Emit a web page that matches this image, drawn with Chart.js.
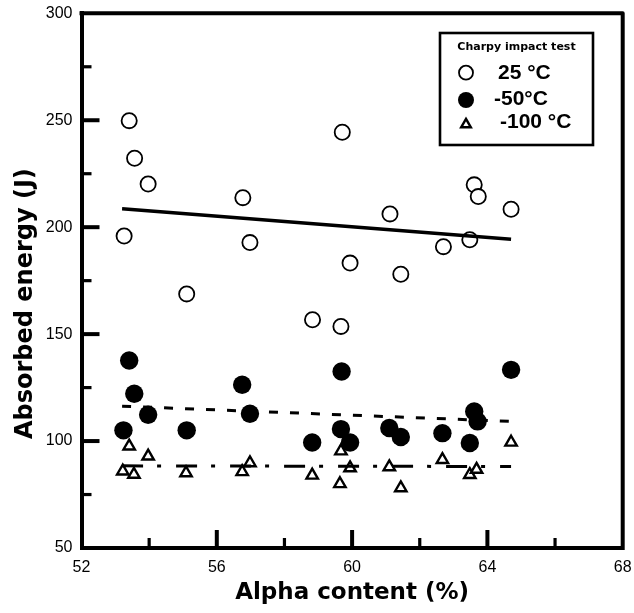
<!DOCTYPE html>
<html>
<head>
<meta charset="utf-8">
<script src="https://cdn.jsdelivr.net/npm/chart.js@4.4.1/dist/chart.umd.min.js"></script>
<style>
html,body{margin:0;padding:0;background:#fff;}
#wrap{width:634px;height:613px;position:relative;}
</style>
</head>
<body>
<div id="wrap"><canvas id="c"></canvas></div>
<script>
// ---- data ----
const seriesLabels = ['25 °C', '-50°C', '-100 °C'];
const legendTitle = 'Charpy impact test';
const xTitle = 'Alpha content (%)';
const yTitle = 'Absorbed energy (J)';

const alpha25  = [53.26, 53.41, 53.57, 53.97, 55.11, 56.77, 56.98, 58.83, 59.67, 59.71, 59.94, 61.12, 61.44, 62.70, 63.48, 63.61, 63.73, 64.70];
const energy25 = [195.9, 249.8, 232.2, 220.2, 168.8, 213.8, 192.8, 156.7, 153.6, 244.4, 183.2, 206.2, 178.0, 190.9, 194.1, 219.8, 214.3, 208.4];

const alpha50  = [53.24, 53.41, 53.56, 53.97, 55.11, 56.75, 56.98, 58.82, 59.67, 59.69, 59.94, 61.10, 61.44, 62.67, 63.48, 63.61, 63.71, 64.70];
const energy50 = [105.0, 137.7, 122.1, 112.3, 105.0, 126.3, 112.8, 99.3, 105.6, 132.5, 99.3, 106.1, 101.9, 103.7, 99.1, 113.8, 109.2, 133.3];

const alpha100  = [53.22, 53.41, 53.55, 53.97, 55.09, 56.75, 56.98, 58.82, 59.64, 59.67, 59.94, 61.10, 61.44, 62.67, 63.48, 63.68, 64.70];
const energy100 = [85.9, 97.6, 84.4, 92.9, 85.1, 85.6, 89.8, 84.0, 80.0, 95.3, 87.4, 87.9, 78.1, 91.3, 84.3, 86.7, 99.4];

const fitAlpha = [53.2, 64.7];
const fit25  = [208.6, 194.4];
const fit50  = [116.3, 109.2];
const fit100 = [88.4, 88.1];

const xTicks = [52, 56, 60, 64, 68];
const yTicks = [50, 100, 150, 200, 250, 300];

// ---- helpers ----
const pts = (xs, ys) => xs.map((x, i) => ({x: x, y: ys[i]}));

const pointStyles = [
  {pointStyle: 'circle', radius: 7.6, borderWidth: 1.8, fill: '#ffffff', legendRadius: 7},
  {pointStyle: 'circle', radius: 9.2, borderWidth: 0, fill: '#000000', legendRadius: 8},
  {pointStyle: 'triangle', radius: 6.6, borderWidth: 2.4, fill: '#ffffff', legendRadius: 5.6}
];

const scatterSets = [pts(alpha25, energy25), pts(alpha50, energy50), pts(alpha100, energy100)].map((d, i) => ({
  type: 'scatter',
  label: seriesLabels[i],
  data: d,
  pointStyle: pointStyles[i].pointStyle,
  pointRadius: pointStyles[i].radius,
  pointBorderWidth: pointStyles[i].borderWidth,
  pointBorderColor: '#000',
  pointBackgroundColor: pointStyles[i].fill,
  showLine: false,
  order: 2
}));

const fitDash = [[], [9, 12], [21, 14, 4, 15]];
const fitWidth = [3.5, 3, 3];
const fitSets = [fit25, fit50, fit100].map((f, i) => ({
  type: 'line',
  label: seriesLabels[i] + ' fit',
  data: pts(fitAlpha, f),
  borderColor: '#000',
  borderWidth: fitWidth[i],
  borderDash: fitDash[i],
  pointRadius: 0,
  fill: false,
  order: 1
}));

const framePlugin = {
  id: 'frame',
  afterDraw(chart) {
    const {ctx, chartArea: a, scales} = chart;
    ctx.save();
    ctx.strokeStyle = '#000';
    ctx.lineCap = 'butt';
    // top and right frame lines
    ctx.lineWidth = 4;
    ctx.lineJoin = 'round';
    ctx.beginPath();
    ctx.moveTo(a.left - 2, a.top);
    ctx.lineTo(a.right, a.top);
    ctx.lineTo(a.right, a.bottom + 2);
    ctx.stroke();
    // inward tick marks
    const drawTicks = (scale, horizontal) => {
      const vals = scale.ticks.map(t => t.value);
      const majors = vals.slice(1, -1);
      const minors = [];
      for (let i = 0; i < vals.length - 1; i++) minors.push((vals[i] + vals[i + 1]) / 2);
      const draw = (v, len, w) => {
        const p = scale.getPixelForValue(v);
        ctx.lineWidth = w;
        ctx.beginPath();
        if (horizontal) { ctx.moveTo(p, a.bottom); ctx.lineTo(p, a.bottom - len); }
        else { ctx.moveTo(a.left, p); ctx.lineTo(a.left + len, p); }
        ctx.stroke();
      };
      majors.forEach(v => draw(v, 18, 4));
      minors.forEach(v => draw(v, 10, 3.2));
    };
    drawTicks(scales.x, true);
    drawTicks(scales.y, false);
    // y axis title
    ctx.fillStyle = '#000';
    ctx.font = 'bold 24px "DejaVu Sans"';
    ctx.textAlign = 'center';
    ctx.textBaseline = 'middle';
    ctx.translate(26, (a.top + a.bottom) / 2 + 23);
    ctx.rotate(-Math.PI / 2);
    ctx.fillText(yTitle, 0, 0);
    ctx.restore();

    // legend box
    ctx.save();
    const L = 440, T = 33, R = 593, B = 145;
    ctx.lineWidth = 2.6;
    ctx.strokeStyle = '#000';
    ctx.strokeRect(L, T, R - L, B - T);
    ctx.fillStyle = '#000';
    ctx.font = 'bold 11px "DejaVu Sans"';
    ctx.textAlign = 'center';
    ctx.textBaseline = 'middle';
    ctx.fillText(legendTitle, (L + R) / 2, 47);
    const rowY = [73, 99.5, 122.5];
    const textX = [498, 494, 500];
    const symY = [72.7, 100, 124.5];
    ctx.font = 'bold 21px "Liberation Sans"';
    ctx.textAlign = 'left';
    for (let i = 0; i < 3; i++) {
      const s = pointStyles[i];
      const x = 466, y = symY[i], r = s.legendRadius;
      ctx.beginPath();
      if (s.pointStyle === 'circle') {
        ctx.arc(x, y, r, 0, Math.PI * 2);
      } else {
        ctx.moveTo(x, y - r);
        ctx.lineTo(x + r * Math.sin(Math.PI * 2 / 3), y + r / 2);
        ctx.lineTo(x - r * Math.sin(Math.PI * 2 / 3), y + r / 2);
        ctx.closePath();
      }
      ctx.fillStyle = s.fill;
      ctx.fill();
      if (s.borderWidth) { ctx.lineWidth = s.borderWidth; ctx.strokeStyle = '#000'; ctx.stroke(); }
      ctx.fillStyle = '#000';
      ctx.fillText(seriesLabels[i], textX[i], rowY[i]);
    }
    ctx.restore();
  }
};

new Chart(document.getElementById('c'), {
  data: {datasets: [...fitSets, ...scatterSets]},
  plugins: [framePlugin],
  options: {
    responsive: true,
    maintainAspectRatio: false,
    animation: false,
    events: [],
    devicePixelRatio: 1,
    layout: {padding: {top: 13.3, right: 11.3, left: 0, bottom: 0}},
    plugins: {legend: {display: false}, tooltip: {enabled: false}},
    scales: {
      x: {
        type: 'linear', min: 52, max: 68,
        afterBuildTicks: s => { s.ticks = xTicks.map(v => ({value: v})); },
        afterFit: s => { s.height = 65; s.paddingLeft = 0; s.paddingRight = 0; },
        ticks: {font: {family: '"Liberation Sans"', size: 16}, color: '#000', padding: 10},
        grid: {display: false, drawTicks: false},
        border: {display: true, width: 4, color: '#000'},
        title: {display: true, text: xTitle, color: '#000', font: {family: '"DejaVu Sans"', size: 23, weight: 'bold'}, padding: {top: 0, bottom: 6}}
      },
      y: {
        type: 'linear', min: 50, max: 300,
        afterBuildTicks: s => { s.ticks = yTicks.map(v => ({value: v})); },
        afterFit: s => { s.width = 81.5; s.paddingTop = 0; s.paddingBottom = 0; },
        ticks: {font: {family: '"Liberation Sans"', size: 16}, color: '#000', padding: 9},
        grid: {display: false, drawTicks: false},
        border: {display: true, width: 4, color: '#000'},
        title: {display: false}
      }
    }
  }
});
</script>
</body>
</html>
